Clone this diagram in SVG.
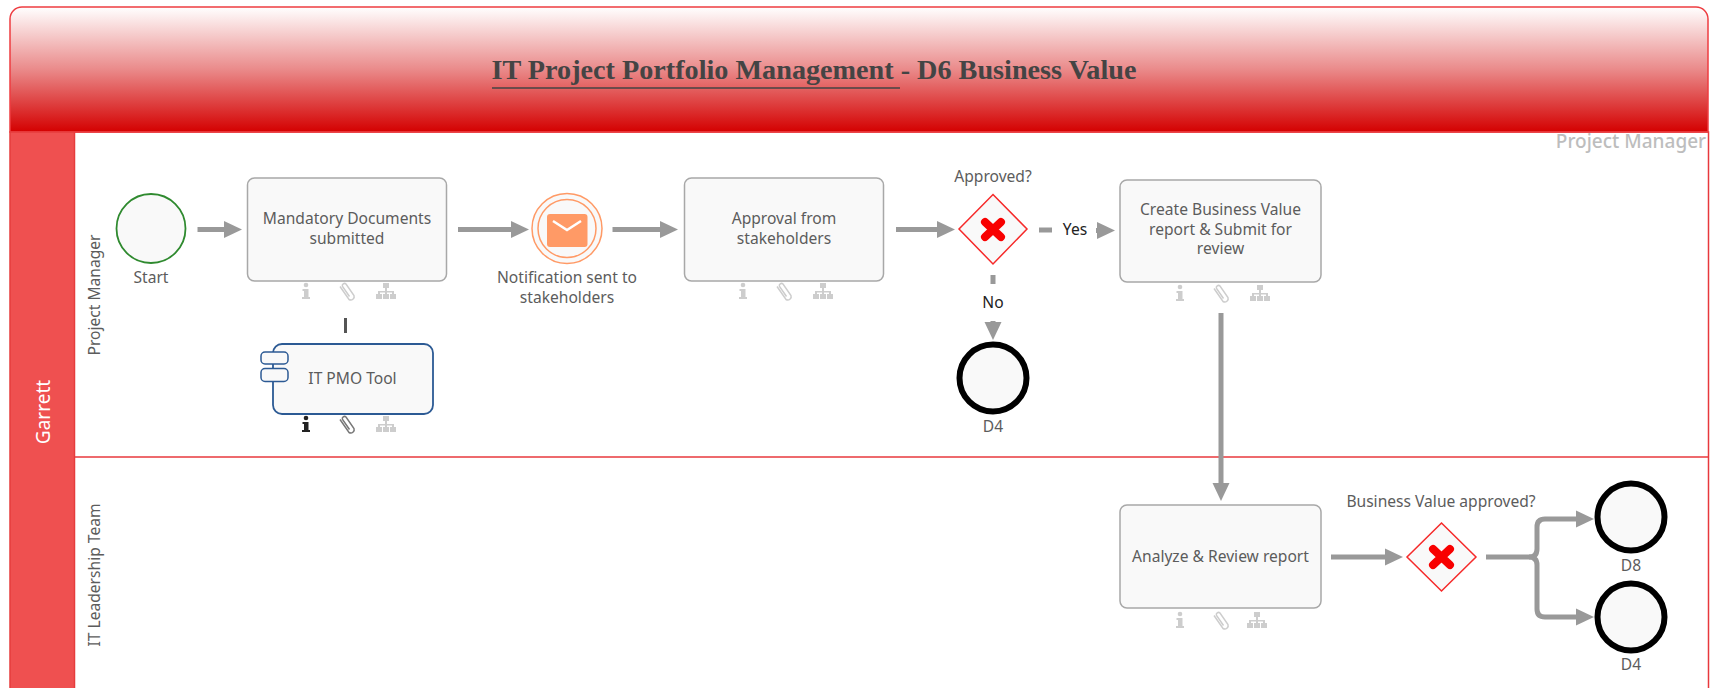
<svg xmlns="http://www.w3.org/2000/svg" width="1715" height="688" viewBox="0 0 1715 688">
<style>
text{font-family:"Noto Sans","Open Sans",sans-serif;font-size:15.6px;fill:#5c5c5c;text-anchor:middle;dominant-baseline:central}
.task{fill:#f9f9f9;stroke:#a8a8a8;stroke-width:1.5}
.end{fill:#f9f9f9;stroke:#000;stroke-width:6}
.gw{fill:#f9f9f9;stroke:#f62a2a;stroke-width:1.5}
.x{fill:none;stroke:#f80000;stroke-width:8;stroke-linecap:round}
.flow{fill:none;stroke:#999;stroke-width:5;marker-end:url(#arrow)}
.lane{fill:none;stroke:#e8383c;stroke-width:1.5}
.ico{fill:#cdcdcd;color:#cdcdcd}
.dark{fill:#222;color:#222}
.mid{fill:#777;color:#777}
</style>
<defs>
<linearGradient id="hdr" x1="0" y1="0" x2="0" y2="1">
<stop offset="0" stop-color="#ffffff"/>
<stop offset="0.5" stop-color="#ea8a8a"/>
<stop offset="1" stop-color="#d40000"/>
</linearGradient>
<marker id="arrow" markerUnits="userSpaceOnUse" markerWidth="18" markerHeight="18" refX="0" refY="9" orient="auto">
<path d="M0,0.5L18,9L0,17.5z" fill="#999"/>
</marker>
<g id="i-i"><circle cx="0" cy="2" r="2.3"/><path d="M-3.5,6H2.5V14H4V16H-4V14H-2V8H-3.5z"/></g>
<g id="i-clip"><path d="M-6,2L3,15A3.4,3.4 0 0 0 8,11L0,-0.5A2.2,2.2 0 0 0 -3.5,2L3.5,12" fill="none" stroke="currentColor" stroke-width="1.5" transform="translate(-1,1.5)"/></g>
<g id="i-org"><rect x="-3" y="0" width="6" height="5"/><path d="M-1,5H1V8H8V11H6V9.5H1V11H-1V9.5H-6V11H-8V8H-1z"/><rect x="-10" y="11" width="6" height="5"/><rect x="-3" y="11" width="6" height="5"/><rect x="4" y="11" width="6" height="5"/></g>
</defs>

<g id="pool">
<path d="M10,132V19A12,12 0 0 1 22,7H1696A12,12 0 0 1 1708,19V132z" fill="url(#hdr)" stroke="#ee3c40" stroke-width="1.5"/>
<rect x="10" y="132" width="64.500" height="557" fill="#ef5050" stroke="#e63c3c" stroke-width="1.500"/>
<path class="lane" d="M74.500,132H1708.500V689"/>
<path class="lane" d="M74.500,457H1708.500"/>
<text x="814" y="69" style="font-family:'Liberation Serif',serif;font-weight:bold;font-size:28.200px;fill:#444">IT Project Portfolio Management - D6 Business Value</text>
<line x1="492" y1="88" x2="900" y2="88" stroke="#444" stroke-width="1.500"/>
<text x="43" y="412" transform="rotate(-90 43 412)" style="fill:#fff;font-size:19px">Garrett</text>
</g>

<g id="lane-project-manager">
<text x="94" y="295" transform="rotate(-90 94 295)">Project Manager</text>
<text x="1631" y="140.500" style="fill:#bdbdbd;font-size:19px;font-weight:500">Project Manager</text>
</g>
<g id="lane-it-leadership">
<text x="94" y="575" transform="rotate(-90 94 575)">IT Leadership Team</text>
</g>

<g id="connectors">
<path class="flow" d="M197.500,229.500H224"/>
<path class="flow" d="M458,229.500H511"/>
<path class="flow" d="M612.500,229.500H660"/>
<path class="flow" d="M896,229.500H937"/>
<path class="flow" d="M1039,230H1052M1096,230.500H1097"/>
<text x="1075" y="229" style="fill:#222">Yes</text>
<path class="flow" d="M993,275V284M993,321V322"/>
<text x="993" y="302" style="fill:#222">No</text>
<path class="flow" d="M1221,313V483"/>
<path class="flow" d="M1331,557H1385"/>
<path class="flow" d="M1486,557H1529Q1537,557 1537,549V527Q1537,519 1545,519H1576"/>
<path class="flow" d="M1529,557Q1537,557 1537,565V609Q1537,617 1545,617H1576"/>
<line x1="345.500" y1="318" x2="345.500" y2="333" stroke="#555" stroke-width="3"/>
</g>

<g id="start"><circle cx="151" cy="228.500" r="34.500" fill="#f9f9f9" stroke="#2f8a2f" stroke-width="1.800"/><text x="151" y="276.500">Start</text></g>

<g id="task-mandatory">
<rect class="task" x="247.500" y="178" width="199" height="103" rx="7"/>
<text x="347" y="217.500">Mandatory Documents</text><text x="347" y="237.500">submitted</text>
<use href="#i-i" x="306" y="283" class="ico"/><use href="#i-clip" x="347" y="283" class="ico"/><use href="#i-org" x="386" y="283" class="ico"/>
</g>

<g id="tool-pmo">
<rect x="273" y="344" width="160" height="70" rx="9" fill="#f9f9f9" stroke="#2c5a94" stroke-width="1.800"/>
<rect x="261" y="352" width="27" height="12" rx="4" fill="#f9f9f9" stroke="#2c5a94" stroke-width="1.500"/>
<rect x="261" y="368.500" width="27" height="13" rx="4" fill="#f9f9f9" stroke="#2c5a94" stroke-width="1.500"/>
<text x="352.500" y="377.500">IT PMO Tool</text>
<use href="#i-i" x="306" y="416" class="dark"/><use href="#i-clip" x="347" y="416" class="mid"/><use href="#i-org" x="386" y="416" class="ico"/>
</g>

<g id="event-notification">
<circle cx="567" cy="228.500" r="35" fill="#f9f9f9" stroke="#ff9a66" stroke-width="1.500"/>
<circle cx="567" cy="228.500" r="29" fill="#f9f9f9" stroke="#ff9a66" stroke-width="1.500"/>
<rect x="547" y="214" width="40.500" height="33" rx="3" fill="#ff9a66"/>
<path d="M553,221L567,230L581,221" fill="none" stroke="#fff" stroke-width="2.500"/>
<text x="567" y="277">Notification sent to</text><text x="567" y="297">stakeholders</text>
</g>

<g id="task-approval">
<rect class="task" x="684.500" y="178" width="199" height="103" rx="7"/>
<text x="784" y="217.500">Approval from</text><text x="784" y="237.500">stakeholders</text>
<use href="#i-i" x="743" y="283" class="ico"/><use href="#i-clip" x="784" y="283" class="ico"/><use href="#i-org" x="823" y="283" class="ico"/>
</g>

<g id="gateway-approved">
<path class="gw" d="M993,194.500L1027,229L993,264L959,229z"/>
<path class="x" d="M985,222L1001,237M1001,222L985,237"/>
<text x="993" y="176">Approved?</text>
</g>

<g id="end-d4-top"><circle class="end" cx="993" cy="378" r="33.500"/><text x="993" y="426">D4</text></g>

<g id="task-create">
<rect class="task" x="1120" y="180" width="201" height="102" rx="7"/>
<text x="1220.500" y="208.500">Create Business Value</text><text x="1220.500" y="228.500">report &amp; Submit for</text><text x="1220.500" y="248">review</text>
<use href="#i-i" x="1180" y="285" class="ico"/><use href="#i-clip" x="1221" y="285" class="ico"/><use href="#i-org" x="1260" y="285" class="ico"/>
</g>

<g id="task-analyze">
<rect class="task" x="1120" y="505" width="201" height="103" rx="7"/>
<text x="1220.500" y="555.500">Analyze &amp; Review report</text>
<use href="#i-i" x="1180" y="612" class="ico"/><use href="#i-clip" x="1221" y="612" class="ico"/><use href="#i-org" x="1257" y="612" class="ico"/>
</g>

<g id="gateway-business">
<path class="gw" d="M1441.500,523L1476,557L1441.500,591L1407,557z"/>
<path class="x" d="M1433,549L1450,565M1450,549L1433,565"/>
<text x="1441" y="501">Business Value approved?</text>
</g>

<g id="end-d8"><circle class="end" cx="1631" cy="517" r="33.500"/><text x="1631" y="565">D8</text></g>
<g id="end-d4"><circle class="end" cx="1631" cy="617" r="33.500"/><text x="1631" y="664">D4</text></g>
</svg>
